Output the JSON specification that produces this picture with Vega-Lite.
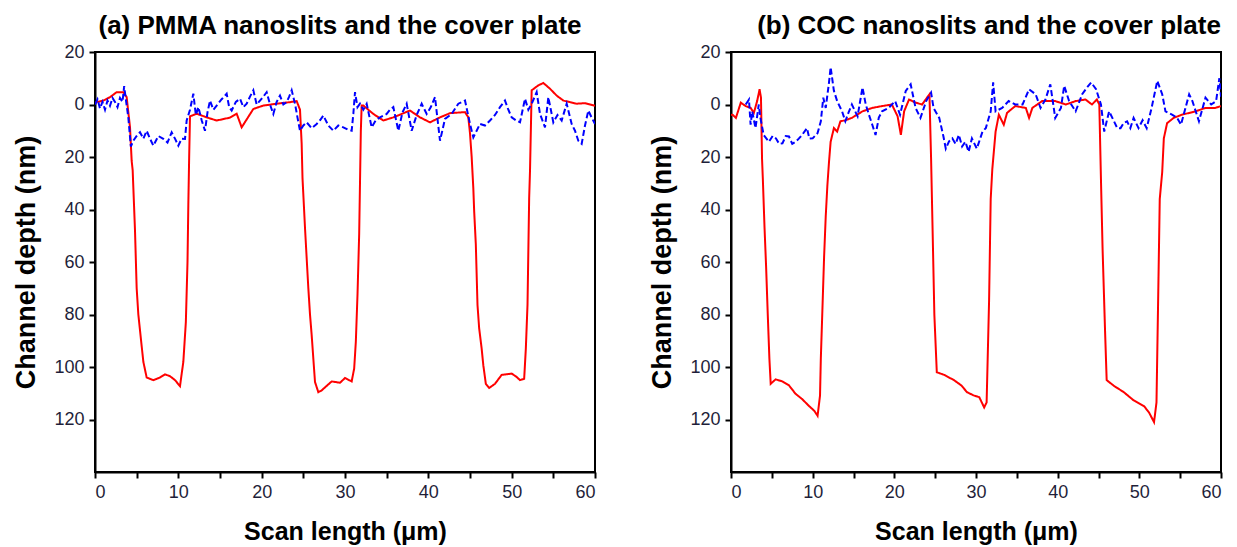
{
"$schema": "https://vega.github.io/schema/vega-lite/v6.json",
"background": "white",
"padding": {"left": 11, "top": 12, "right": 5, "bottom": 2},
"spacing": 50,
"config": {
  "view": {"stroke": "black", "strokeWidth": 2},
  "axis": {"domainColor": "black", "domainWidth": 2, "tickColor": "black", "tickWidth": 2, "tickSize": 6, "labelFont": "Liberation Sans", "labelFontSize": 18, "labelColor": "#1f1f3a", "titleFont": "Liberation Sans", "titleFontSize": 25, "titleFontWeight": "bold", "titleColor": "black", "grid": false, "labelPadding": 5},
  "axisY": {"titleFontSize": 27},
  "title": {"font": "Liberation Sans", "fontSize": 26, "fontWeight": "bold", "anchor": "middle", "color": "black"}
},
"datasets": {
"left": [
{"s":"slit","x":0,"y":-0.5},{"s":"slit","x":0.2,"y":-0.9},{"s":"slit","x":1.0,"y":-1.5},{"s":"slit","x":1.8,"y":-2.8},{"s":"slit","x":2.6,"y":-4.7},{"s":"slit","x":3.4,"y":-4.7},{"s":"slit","x":3.8,"y":-2.8},{"s":"slit","x":4.2,"y":8.7},{"s":"slit","x":4.4,"y":21.5},{"s":"slit","x":4.52,"y":25},{"s":"slit","x":4.8,"y":48},{"s":"slit","x":5.0,"y":70},{"s":"slit","x":5.2,"y":80},{"s":"slit","x":5.4,"y":86},{"s":"slit","x":5.8,"y":98},{"s":"slit","x":6.2,"y":104},{"s":"slit","x":7.0,"y":105},{"s":"slit","x":7.8,"y":104},{"s":"slit","x":8.4,"y":102.8},{"s":"slit","x":9.0,"y":103.5},{"s":"slit","x":9.6,"y":105},{"s":"slit","x":10.2,"y":107.3},{"s":"slit","x":10.6,"y":98},{"s":"slit","x":10.9,"y":83},{"s":"slit","x":11.1,"y":60},{"s":"slit","x":11.2,"y":38},{"s":"slit","x":11.3,"y":20},{"s":"slit","x":11.4,"y":4.5},{"s":"slit","x":12.2,"y":3.5},{"s":"slit","x":13.4,"y":4.9},{"s":"slit","x":14.6,"y":6.1},{"s":"slit","x":16.2,"y":5},{"s":"slit","x":17.0,"y":3.5},{"s":"slit","x":17.6,"y":8.7},{"s":"slit","x":19.0,"y":1.7},{"s":"slit","x":20.2,"y":0.4},{"s":"slit","x":21.8,"y":-0.3},{"s":"slit","x":23.4,"y":-0.9},{"s":"slit","x":24.2,"y":-1.3},{"s":"slit","x":24.6,"y":2},{"s":"slit","x":24.8,"y":15},{"s":"slit","x":24.9,"y":28},{"s":"slit","x":25.2,"y":47},{"s":"slit","x":25.4,"y":58.5},{"s":"slit","x":25.6,"y":70},{"s":"slit","x":25.8,"y":80},{"s":"slit","x":26.0,"y":87.8},{"s":"slit","x":26.2,"y":96.8},{"s":"slit","x":26.4,"y":105.7},{"s":"slit","x":26.8,"y":109.6},{"s":"slit","x":27.2,"y":108.9},{"s":"slit","x":28.4,"y":105.5},{"s":"slit","x":29.4,"y":106},{"s":"slit","x":30.0,"y":104.2},{"s":"slit","x":30.8,"y":105.5},{"s":"slit","x":31.1,"y":100.6},{"s":"slit","x":31.3,"y":90.4},{"s":"slit","x":31.5,"y":72.5},{"s":"slit","x":31.7,"y":49.5},{"s":"slit","x":31.8,"y":29.8},{"s":"slit","x":31.9,"y":10},{"s":"slit","x":32.0,"y":0.4},{"s":"slit","x":32.2,"y":0.4},{"s":"slit","x":33.4,"y":3.6},{"s":"slit","x":34.6,"y":6.1},{"s":"slit","x":35.8,"y":4.9},{"s":"slit","x":37.8,"y":2.3},{"s":"slit","x":39.0,"y":4.9},{"s":"slit","x":40.2,"y":6.8},{"s":"slit","x":41.4,"y":4.9},{"s":"slit","x":42.6,"y":3.3},{"s":"slit","x":44.4,"y":2.9},{"s":"slit","x":44.8,"y":4.9},{"s":"slit","x":45.0,"y":11},{"s":"slit","x":45.2,"y":20},{"s":"slit","x":45.4,"y":32},{"s":"slit","x":45.5,"y":40.6},{"s":"slit","x":45.7,"y":53.4},{"s":"slit","x":45.9,"y":76.4},{"s":"slit","x":46.1,"y":85.3},{"s":"slit","x":46.4,"y":93},{"s":"slit","x":46.6,"y":99.4},{"s":"slit","x":46.9,"y":106.4},{"s":"slit","x":47.3,"y":108},{"s":"slit","x":48.0,"y":106.4},{"s":"slit","x":48.8,"y":103},{"s":"slit","x":50.0,"y":102.5},{"s":"slit","x":50.6,"y":103.8},{"s":"slit","x":51.0,"y":105},{"s":"slit","x":51.5,"y":104.5},{"s":"slit","x":51.7,"y":93},{"s":"slit","x":51.9,"y":76.4},{"s":"slit","x":52.1,"y":35.5},{"s":"slit","x":52.2,"y":25.3},{"s":"slit","x":52.3,"y":10},{"s":"slit","x":52.4,"y":-5.4},{"s":"slit","x":53.2,"y":-7.3},{"s":"slit","x":53.8,"y":-8.2},{"s":"slit","x":54.6,"y":-6.0},{"s":"slit","x":55.4,"y":-3.4},{"s":"slit","x":56.2,"y":-1.5},{"s":"slit","x":57.0,"y":-0.9},{"s":"slit","x":57.8,"y":-0.3},{"s":"slit","x":58.8,"y":-0.5},{"s":"slit","x":60,"y":0.5},
{"s":"cover","x":0,"y":0},{"s":"cover","x":0.3,"y":-2},{"s":"cover","x":0.6,"y":1.5},{"s":"cover","x":0.9,"y":-1},{"s":"cover","x":1.2,"y":2},{"s":"cover","x":1.5,"y":-1.5},{"s":"cover","x":1.8,"y":0.5},{"s":"cover","x":2.1,"y":-2.5},{"s":"cover","x":2.4,"y":-1},{"s":"cover","x":2.7,"y":1},{"s":"cover","x":3.0,"y":-2.5},{"s":"cover","x":3.3,"y":-1},{"s":"cover","x":3.5,"y":-7},{"s":"cover","x":3.7,"y":-2},{"s":"cover","x":4.0,"y":5},{"s":"cover","x":4.3,"y":16},{"s":"cover","x":4.6,"y":13.8},{"s":"cover","x":5.0,"y":12},{"s":"cover","x":5.4,"y":10.6},{"s":"cover","x":5.8,"y":13},{"s":"cover","x":6.2,"y":10},{"s":"cover","x":6.6,"y":13},{"s":"cover","x":7.0,"y":15.7},{"s":"cover","x":7.6,"y":12},{"s":"cover","x":8.2,"y":13.1},{"s":"cover","x":8.7,"y":14.5},{"s":"cover","x":9.2,"y":10.6},{"s":"cover","x":9.6,"y":13},{"s":"cover","x":10.0,"y":15.7},{"s":"cover","x":10.4,"y":13},{"s":"cover","x":10.8,"y":13.1},{"s":"cover","x":11.0,"y":6.1},{"s":"cover","x":11.4,"y":2},{"s":"cover","x":11.8,"y":-4.1},{"s":"cover","x":12.1,"y":4},{"s":"cover","x":12.4,"y":1},{"s":"cover","x":12.8,"y":6},{"s":"cover","x":13.2,"y":10},{"s":"cover","x":13.5,"y":3},{"s":"cover","x":13.8,"y":-1.5},{"s":"cover","x":14.2,"y":2},{"s":"cover","x":14.6,"y":0.4},{"s":"cover","x":15.2,"y":-2},{"s":"cover","x":15.8,"y":-4.1},{"s":"cover","x":16.1,"y":1},{"s":"cover","x":16.4,"y":2.3},{"s":"cover","x":16.9,"y":-1},{"s":"cover","x":17.4,"y":-2.2},{"s":"cover","x":17.8,"y":1},{"s":"cover","x":18.2,"y":-0.3},{"s":"cover","x":18.6,"y":-3},{"s":"cover","x":19.0,"y":-5.4},{"s":"cover","x":19.4,"y":0},{"s":"cover","x":19.8,"y":-1.5},{"s":"cover","x":20.2,"y":-3},{"s":"cover","x":20.6,"y":-4.7},{"s":"cover","x":21.0,"y":0},{"s":"cover","x":21.4,"y":3.6},{"s":"cover","x":21.8,"y":-1},{"s":"cover","x":22.2,"y":-3.4},{"s":"cover","x":22.6,"y":0},{"s":"cover","x":23.0,"y":-0.9},{"s":"cover","x":23.3,"y":-3},{"s":"cover","x":23.6,"y":-5.4},{"s":"cover","x":24.0,"y":-0.3},{"s":"cover","x":24.3,"y":5},{"s":"cover","x":24.6,"y":10},{"s":"cover","x":25.0,"y":8},{"s":"cover","x":25.4,"y":6.8},{"s":"cover","x":26.0,"y":9},{"s":"cover","x":26.6,"y":7.4},{"s":"cover","x":27.0,"y":6},{"s":"cover","x":27.4,"y":4.2},{"s":"cover","x":28.0,"y":8},{"s":"cover","x":28.6,"y":10},{"s":"cover","x":29.2,"y":8},{"s":"cover","x":29.8,"y":8.7},{"s":"cover","x":30.3,"y":9.5},{"s":"cover","x":30.8,"y":10},{"s":"cover","x":31.0,"y":3.6},{"s":"cover","x":31.2,"y":-4.7},{"s":"cover","x":31.5,"y":1},{"s":"cover","x":31.8,"y":-0.3},{"s":"cover","x":32.2,"y":2},{"s":"cover","x":32.6,"y":-0.3},{"s":"cover","x":33.2,"y":8.7},{"s":"cover","x":33.7,"y":6},{"s":"cover","x":34.2,"y":4.9},{"s":"cover","x":35.0,"y":3.6},{"s":"cover","x":35.4,"y":2},{"s":"cover","x":35.8,"y":1},{"s":"cover","x":36.4,"y":10},{"s":"cover","x":36.9,"y":3},{"s":"cover","x":37.4,"y":-0.3},{"s":"cover","x":38.0,"y":10},{"s":"cover","x":38.6,"y":4},{"s":"cover","x":39.2,"y":-0.3},{"s":"cover","x":39.8,"y":3.6},{"s":"cover","x":40.3,"y":1},{"s":"cover","x":40.8,"y":-2.8},{"s":"cover","x":41.4,"y":13.8},{"s":"cover","x":42.0,"y":5.5},{"s":"cover","x":42.8,"y":3.6},{"s":"cover","x":43.6,"y":-0.3},{"s":"cover","x":44.4,"y":-1.5},{"s":"cover","x":45.0,"y":7.4},{"s":"cover","x":45.4,"y":12.5},{"s":"cover","x":45.8,"y":10},{"s":"cover","x":46.2,"y":7.4},{"s":"cover","x":46.8,"y":8},{"s":"cover","x":47.4,"y":6.1},{"s":"cover","x":48.0,"y":4},{"s":"cover","x":48.6,"y":1},{"s":"cover","x":49.2,"y":-1.5},{"s":"cover","x":49.6,"y":2},{"s":"cover","x":50.0,"y":4.9},{"s":"cover","x":50.5,"y":6},{"s":"cover","x":51.0,"y":6.8},{"s":"cover","x":51.6,"y":-2.2},{"s":"cover","x":52.0,"y":2},{"s":"cover","x":52.4,"y":-0.3},{"s":"cover","x":53.0,"y":-4.7},{"s":"cover","x":53.4,"y":3.6},{"s":"cover","x":54.0,"y":8.7},{"s":"cover","x":54.4,"y":-2.8},{"s":"cover","x":55.0,"y":6.8},{"s":"cover","x":55.5,"y":4},{"s":"cover","x":56.0,"y":6.1},{"s":"cover","x":56.6,"y":-0.3},{"s":"cover","x":57.2,"y":7.4},{"s":"cover","x":57.6,"y":10},{"s":"cover","x":58.0,"y":13.8},{"s":"cover","x":58.4,"y":15},{"s":"cover","x":58.8,"y":8},{"s":"cover","x":59.2,"y":2.3},{"s":"cover","x":59.6,"y":5},{"s":"cover","x":60,"y":7.4}
],
"right": [
{"s":"slit","x":0,"y":4},{"s":"slit","x":0.2,"y":3.9},{"s":"slit","x":0.6,"y":5.1},{"s":"slit","x":1.2,"y":-0.7},{"s":"slit","x":1.8,"y":0.6},{"s":"slit","x":2.4,"y":1.3},{"s":"slit","x":2.8,"y":3.2},{"s":"slit","x":3.2,"y":-1.3},{"s":"slit","x":3.5,"y":-5.8},{"s":"slit","x":3.67,"y":-2.6},{"s":"slit","x":3.8,"y":20.6},{"s":"slit","x":3.9,"y":28.4},{"s":"slit","x":4.1,"y":46.4},{"s":"slit","x":4.3,"y":61.9},{"s":"slit","x":4.5,"y":79.9},{"s":"slit","x":4.7,"y":96.7},{"s":"slit","x":4.86,"y":106.4},{"s":"slit","x":5.47,"y":104.7},{"s":"slit","x":6.3,"y":105.5},{"s":"slit","x":7.1,"y":107},{"s":"slit","x":7.9,"y":110.2},{"s":"slit","x":8.7,"y":112.2},{"s":"slit","x":9.5,"y":114.7},{"s":"slit","x":10.2,"y":116.7},{"s":"slit","x":10.6,"y":118.6},{"s":"slit","x":10.9,"y":110.9},{"s":"slit","x":11.0,"y":96.7},{"s":"slit","x":11.2,"y":77.4},{"s":"slit","x":11.4,"y":58},{"s":"slit","x":11.6,"y":42.6},{"s":"slit","x":11.8,"y":30.9},{"s":"slit","x":12.0,"y":21.9},{"s":"slit","x":12.2,"y":14.2},{"s":"slit","x":12.6,"y":9},{"s":"slit","x":13.0,"y":10.3},{"s":"slit","x":13.4,"y":6.4},{"s":"slit","x":14.0,"y":6},{"s":"slit","x":14.8,"y":5.1},{"s":"slit","x":16.1,"y":2.6},{"s":"slit","x":17.3,"y":1.3},{"s":"slit","x":18.5,"y":0.6},{"s":"slit","x":19.7,"y":0},{"s":"slit","x":20.4,"y":4.5},{"s":"slit","x":20.8,"y":11.6},{"s":"slit","x":21.2,"y":2.6},{"s":"slit","x":21.8,"y":-1.9},{"s":"slit","x":22.6,"y":-0.7},{"s":"slit","x":23.4,"y":0},{"s":"slit","x":24.0,"y":-2.6},{"s":"slit","x":24.3,"y":-3.9},{"s":"slit","x":24.5,"y":20.6},{"s":"slit","x":24.7,"y":50},{"s":"slit","x":24.9,"y":80},{"s":"slit","x":25.2,"y":102},{"s":"slit","x":26.1,"y":103},{"s":"slit","x":27.3,"y":105},{"s":"slit","x":28.2,"y":107},{"s":"slit","x":28.9,"y":109.6},{"s":"slit","x":29.7,"y":110.8},{"s":"slit","x":30.4,"y":111.5},{"s":"slit","x":31.0,"y":115.4},{"s":"slit","x":31.3,"y":113.5},{"s":"slit","x":31.6,"y":75},{"s":"slit","x":31.8,"y":36},{"s":"slit","x":32.0,"y":24.5},{"s":"slit","x":32.4,"y":10.3},{"s":"slit","x":32.8,"y":3.9},{"s":"slit","x":33.4,"y":7.7},{"s":"slit","x":33.8,"y":3.2},{"s":"slit","x":34.8,"y":0.6},{"s":"slit","x":36.1,"y":1.3},{"s":"slit","x":36.5,"y":5.1},{"s":"slit","x":36.9,"y":1.3},{"s":"slit","x":38.1,"y":-1.3},{"s":"slit","x":39.7,"y":-1.3},{"s":"slit","x":41.0,"y":0},{"s":"slit","x":42.2,"y":-1.3},{"s":"slit","x":43.4,"y":-1.9},{"s":"slit","x":44.2,"y":0},{"s":"slit","x":44.8,"y":-1.9},{"s":"slit","x":45.1,"y":0},{"s":"slit","x":45.3,"y":28.4},{"s":"slit","x":45.5,"y":55},{"s":"slit","x":45.8,"y":86},{"s":"slit","x":46.0,"y":105},{"s":"slit","x":46.9,"y":107.2},{"s":"slit","x":48.1,"y":109.6},{"s":"slit","x":49.3,"y":112.7},{"s":"slit","x":50.6,"y":115},{"s":"slit","x":51.2,"y":117.4},{"s":"slit","x":51.8,"y":121},{"s":"slit","x":52.1,"y":113.5},{"s":"slit","x":52.3,"y":75},{"s":"slit","x":52.5,"y":36},{"s":"slit","x":52.8,"y":25.8},{"s":"slit","x":53.0,"y":12.9},{"s":"slit","x":53.4,"y":7.1},{"s":"slit","x":54.2,"y":5.1},{"s":"slit","x":55.2,"y":3.9},{"s":"slit","x":56.9,"y":2.6},{"s":"slit","x":58.1,"y":1.3},{"s":"slit","x":59.3,"y":1.3},{"s":"slit","x":60,"y":0.6},
{"s":"cover","x":1.8,"y":0},{"s":"cover","x":2.2,"y":-1.9},{"s":"cover","x":2.4,"y":7.7},{"s":"cover","x":2.6,"y":2.6},{"s":"cover","x":3.0,"y":9},{"s":"cover","x":3.4,"y":0},{"s":"cover","x":3.6,"y":5.1},{"s":"cover","x":4.0,"y":11.6},{"s":"cover","x":4.65,"y":14.2},{"s":"cover","x":5.1,"y":12},{"s":"cover","x":5.5,"y":12.9},{"s":"cover","x":5.9,"y":15},{"s":"cover","x":6.3,"y":14.8},{"s":"cover","x":6.7,"y":12},{"s":"cover","x":7.1,"y":12.2},{"s":"cover","x":7.5,"y":15},{"s":"cover","x":7.9,"y":14.2},{"s":"cover","x":8.3,"y":13},{"s":"cover","x":8.7,"y":11.6},{"s":"cover","x":9.3,"y":9},{"s":"cover","x":9.6,"y":13},{"s":"cover","x":10.0,"y":12.9},{"s":"cover","x":10.6,"y":10.9},{"s":"cover","x":11.0,"y":6.4},{"s":"cover","x":11.3,"y":-2.6},{"s":"cover","x":11.6,"y":1.3},{"s":"cover","x":12.0,"y":-8.4},{"s":"cover","x":12.2,"y":-14.2},{"s":"cover","x":12.6,"y":-5.2},{"s":"cover","x":13.0,"y":-1.3},{"s":"cover","x":13.6,"y":2.6},{"s":"cover","x":14.0,"y":6.4},{"s":"cover","x":14.4,"y":3},{"s":"cover","x":14.8,"y":0},{"s":"cover","x":15.5,"y":4.5},{"s":"cover","x":16.1,"y":-6.5},{"s":"cover","x":16.5,"y":0},{"s":"cover","x":16.9,"y":4},{"s":"cover","x":17.3,"y":7.7},{"s":"cover","x":17.7,"y":11.6},{"s":"cover","x":18.1,"y":5},{"s":"cover","x":18.5,"y":2.6},{"s":"cover","x":19.3,"y":1.3},{"s":"cover","x":20.1,"y":-1.3},{"s":"cover","x":20.7,"y":3.9},{"s":"cover","x":21.4,"y":-5.2},{"s":"cover","x":22.0,"y":-7.7},{"s":"cover","x":22.6,"y":1.3},{"s":"cover","x":23.2,"y":5.1},{"s":"cover","x":23.9,"y":-1.3},{"s":"cover","x":24.5,"y":-4.5},{"s":"cover","x":24.8,"y":1.3},{"s":"cover","x":25.5,"y":5.1},{"s":"cover","x":26.0,"y":12},{"s":"cover","x":26.3,"y":16.8},{"s":"cover","x":26.7,"y":14},{"s":"cover","x":27.1,"y":12.9},{"s":"cover","x":27.5,"y":15},{"s":"cover","x":27.9,"y":11.6},{"s":"cover","x":28.3,"y":16},{"s":"cover","x":28.7,"y":14.2},{"s":"cover","x":29.1,"y":18},{"s":"cover","x":29.5,"y":12.9},{"s":"cover","x":30.1,"y":16.8},{"s":"cover","x":30.8,"y":10.3},{"s":"cover","x":31.2,"y":9},{"s":"cover","x":31.8,"y":2.6},{"s":"cover","x":32.1,"y":-8.4},{"s":"cover","x":32.4,"y":2.6},{"s":"cover","x":33.2,"y":1.3},{"s":"cover","x":34.0,"y":-1.3},{"s":"cover","x":34.8,"y":0},{"s":"cover","x":35.7,"y":0},{"s":"cover","x":36.5,"y":-5.8},{"s":"cover","x":37.3,"y":-3.9},{"s":"cover","x":37.9,"y":1.3},{"s":"cover","x":38.5,"y":-1.9},{"s":"cover","x":39.1,"y":-7.7},{"s":"cover","x":39.7,"y":5.1},{"s":"cover","x":40.4,"y":1.3},{"s":"cover","x":40.8,"y":-7.1},{"s":"cover","x":41.4,"y":-1.3},{"s":"cover","x":42.2,"y":2.6},{"s":"cover","x":43.0,"y":-3.9},{"s":"cover","x":43.6,"y":-6.5},{"s":"cover","x":44.1,"y":-8.4},{"s":"cover","x":44.7,"y":-5.8},{"s":"cover","x":45.3,"y":0},{"s":"cover","x":45.7,"y":10.3},{"s":"cover","x":46.3,"y":2.6},{"s":"cover","x":46.9,"y":6.4},{"s":"cover","x":47.3,"y":9},{"s":"cover","x":47.7,"y":9},{"s":"cover","x":48.1,"y":7},{"s":"cover","x":48.5,"y":6.4},{"s":"cover","x":48.9,"y":9},{"s":"cover","x":49.3,"y":5.1},{"s":"cover","x":49.9,"y":9},{"s":"cover","x":50.4,"y":6},{"s":"cover","x":50.9,"y":9},{"s":"cover","x":51.5,"y":1.3},{"s":"cover","x":52.2,"y":-9},{"s":"cover","x":52.8,"y":-3.9},{"s":"cover","x":53.2,"y":2.6},{"s":"cover","x":54.0,"y":3.9},{"s":"cover","x":54.6,"y":5},{"s":"cover","x":55.1,"y":7.7},{"s":"cover","x":56.1,"y":-3.9},{"s":"cover","x":56.5,"y":-1.3},{"s":"cover","x":57.3,"y":6.4},{"s":"cover","x":58.1,"y":-2.6},{"s":"cover","x":58.8,"y":0},{"s":"cover","x":59.4,"y":-1.3},{"s":"cover","x":59.8,"y":-10},{"s":"cover","x":60,"y":-3}
]
},
"hconcat": [
{
  "title": {"text": "(a) PMMA nanoslits and the cover plate", "offset": 4, "dx": -5},
  "width": 500, "height": 420,
  "data": {"name": "left"},
  "mark": {"type": "line", "strokeWidth": 2, "clip": true},
  "encoding": {
    "x": {"field": "x", "type": "quantitative", "scale": {"domain": [0, 60], "nice": false}, "axis": {"title": "Scan length (μm)", "values": [0,5,10,15,20,25,30,35,40,45,50,55,60], "labelExpr": "datum.value % 10 == 0 ? datum.label : ''", "titlePadding": 18}},
    "y": {"field": "y", "type": "quantitative", "scale": {"domain": [-20, 140], "reverse": true, "nice": false, "zero": false}, "axis": {"title": "Channel depth (nm)", "values": [-20,0,20,40,60,80,100,120], "labelExpr": "format(abs(datum.value), 'd')", "titlePadding": 13}},
    "color": {"field": "s", "type": "nominal", "scale": {"domain": ["slit", "cover"], "range": ["#ff0000", "#0000ff"]}, "legend": null},
    "strokeDash": {"field": "s", "type": "nominal", "scale": {"domain": ["slit", "cover"], "range": [[1, 0], [6, 3]]}, "legend": null}
  }
},
{
  "title": {"text": "(b) COC nanoslits and the cover plate", "offset": 4, "dx": 13},
  "width": 490, "height": 420,
  "data": {"name": "right"},
  "mark": {"type": "line", "strokeWidth": 2, "clip": true},
  "encoding": {
    "x": {"field": "x", "type": "quantitative", "scale": {"domain": [0, 60], "nice": false}, "axis": {"title": "Scan length (μm)", "values": [0,5,10,15,20,25,30,35,40,45,50,55,60], "labelExpr": "datum.value % 10 == 0 ? datum.label : ''", "titlePadding": 18}},
    "y": {"field": "y", "type": "quantitative", "scale": {"domain": [-20, 140], "reverse": true, "nice": false, "zero": false}, "axis": {"title": "Channel depth (nm)", "values": [-20,0,20,40,60,80,100,120], "labelExpr": "format(abs(datum.value), 'd')", "titlePadding": 13}},
    "color": {"field": "s", "type": "nominal", "scale": {"domain": ["slit", "cover"], "range": ["#ff0000", "#0000ff"]}, "legend": null},
    "strokeDash": {"field": "s", "type": "nominal", "scale": {"domain": ["slit", "cover"], "range": [[1, 0], [6, 3]]}, "legend": null}
  }
}
]
}
